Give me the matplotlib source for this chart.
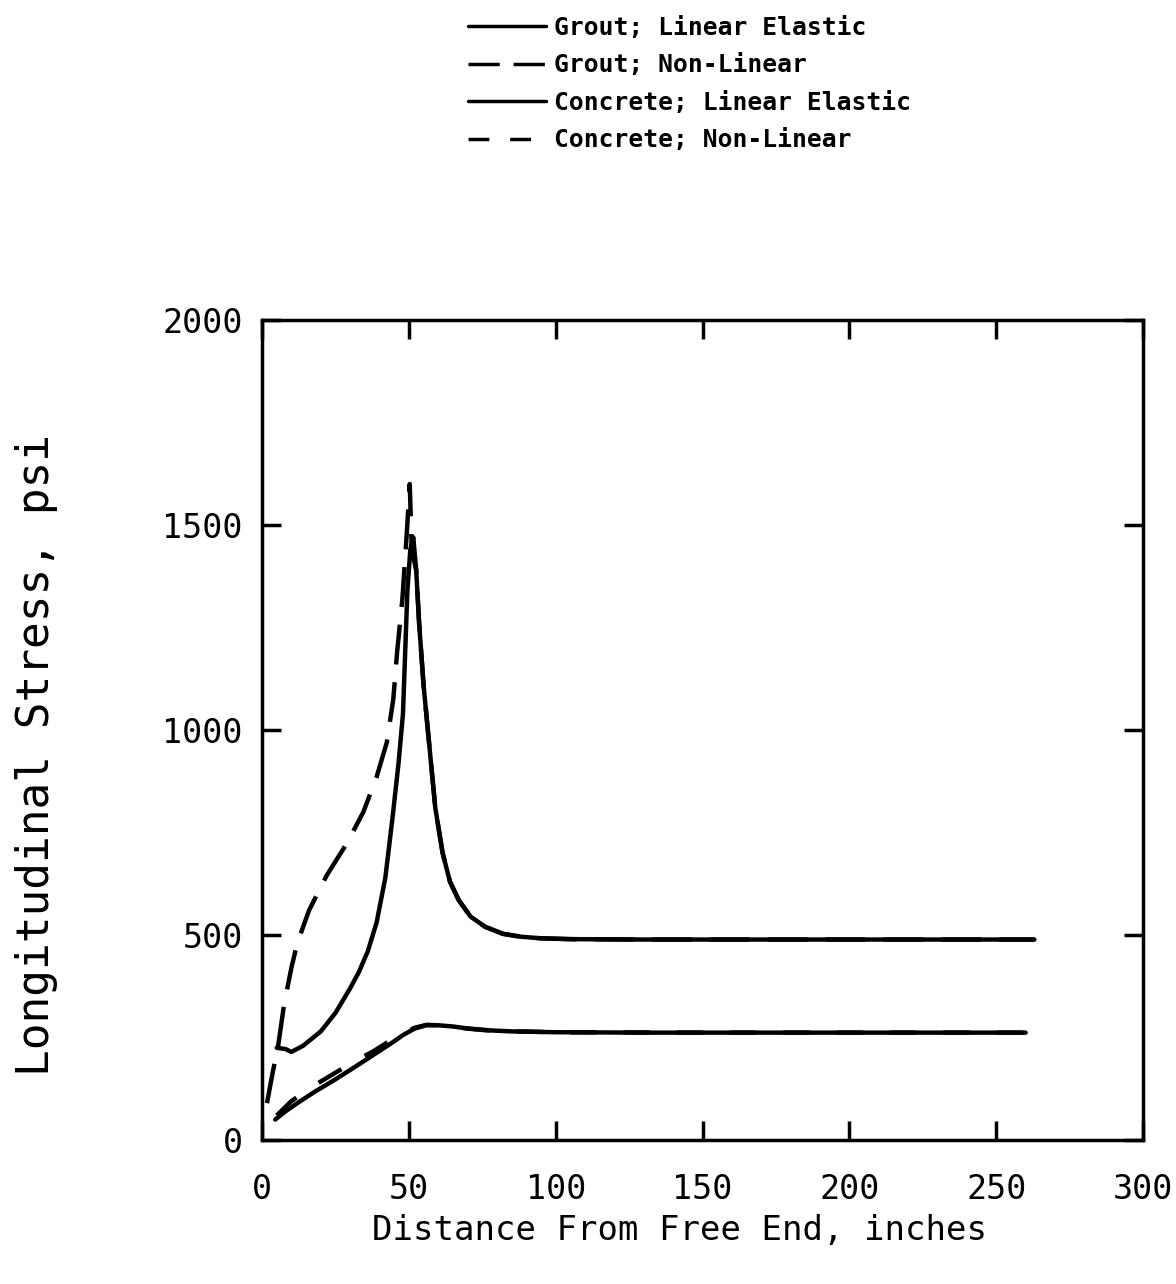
import numpy as np
import matplotlib.pyplot as plt

## data
grout_le_x = [5, 8, 10, 14, 20, 25, 30, 33, 36, 39, 42, 44.5, 46.5, 48, 49.5, 50.5, 51.5,
              52.5, 53.5, 55, 57, 59, 61.5, 64, 67, 71, 76, 82, 88, 95, 105, 130, 160, 200, 230, 263]
grout_le_y = [225, 222, 215, 230, 265, 310, 370, 410, 460, 530, 640, 790, 920, 1040, 1340, 1440, 1470,
              1390, 1260, 1110, 960, 810, 700, 630, 585, 545, 520, 503, 496, 492, 490, 489, 489, 489, 489, 489]

grout_nl_x = [1.7, 3.5, 5.5, 7.5, 10, 12, 16, 22, 29, 34.5, 39, 42.5, 44.7, 46, 47.8, 49.3, 50.3,
              51, 52.5, 53.5, 55, 57, 59, 61.5, 64, 67, 71, 76, 82, 88, 95, 105, 130, 160, 200, 230, 263]
grout_nl_y = [90, 160, 230, 330, 420, 480, 560, 645, 725, 800, 885, 970, 1075, 1190, 1320, 1480, 1600,
              1440, 1390, 1260, 1110, 960, 810, 700, 630, 585, 545, 520, 503, 496, 492, 490, 489, 489, 489, 489, 489]

conc_le_x = [4.5, 8, 12, 18, 25, 32, 38, 44, 48, 52, 56, 60, 65, 70, 76, 85, 100, 130, 160, 200, 230, 260]
conc_le_y = [50, 70, 90, 118, 148, 180, 208, 236, 256, 272, 280, 280, 277, 272, 268, 265, 263, 262, 262, 262, 262, 262]

conc_nl_x = [5, 10, 17, 24, 31, 38, 44, 48, 52, 56, 60, 70, 80, 100, 150, 200, 260]
conc_nl_y = [60, 95, 130, 160, 190, 217, 244, 260, 274, 281, 280, 272, 266, 263, 262, 262, 262]

labels = ['Grout; Linear Elastic', 'Grout; Non-Linear',
          'Concrete; Linear Elastic', 'Concrete; Non-Linear']
x_ticks = [0, 50, 100, 150, 200, 250, 300]
y_ticks = [0, 500, 1000, 1500, 2000]

mono = 'DejaVu Sans Mono'

fig = plt.figure(figsize=(11.76, 12.84), dpi=100)
ax = fig.add_axes([0.2228, 0.1121, 0.7492, 0.6387])

lw = 3.2
l1, = ax.plot(grout_le_x, grout_le_y, color='black', lw=lw, solid_capstyle='round')
l2, = ax.plot(grout_nl_x, grout_nl_y, color='black', lw=lw, dashes=(9, 4))
l3, = ax.plot(conc_le_x, conc_le_y, color='black', lw=lw, solid_capstyle='round')
l4, = ax.plot(conc_nl_x, conc_nl_y, color='black', lw=lw, dashes=(6, 6))

ax.set_xlim(0, 300)
ax.set_ylim(0, 2000)
ax.set_xticks(x_ticks)
ax.set_yticks(y_ticks)
ax.tick_params(direction='in', length=14, width=2.5, top=True, right=True,
               labelsize=24, pad=14)
ax.tick_params(axis='x', pad=24)
for lab in ax.get_xticklabels() + ax.get_yticklabels():
    lab.set_family(mono)
for s in ax.spines.values():
    s.set_linewidth(2.5)

ax.set_xlabel('Distance From Free End, inches', fontsize=24.5, family=mono)
ax.xaxis.set_label_coords(0.474, -0.09)
ax.set_ylabel('Longitudinal Stress, psi', fontsize=32, family=mono)
ax.yaxis.set_label_coords(-0.232, 0.47)

leg = fig.legend([l1, l2, l3, l4], labels, loc='upper left',
                 bbox_to_anchor=(0.379, 1.005), frameon=False,
                 prop={'family': mono, 'weight': 'bold', 'size': 17.7},
                 handlelength=3.2, handletextpad=0.3, labelspacing=0.55)
for h in leg.get_lines():
    h.set_linewidth(2.5)

fig.savefig('out.png', dpi=100)
